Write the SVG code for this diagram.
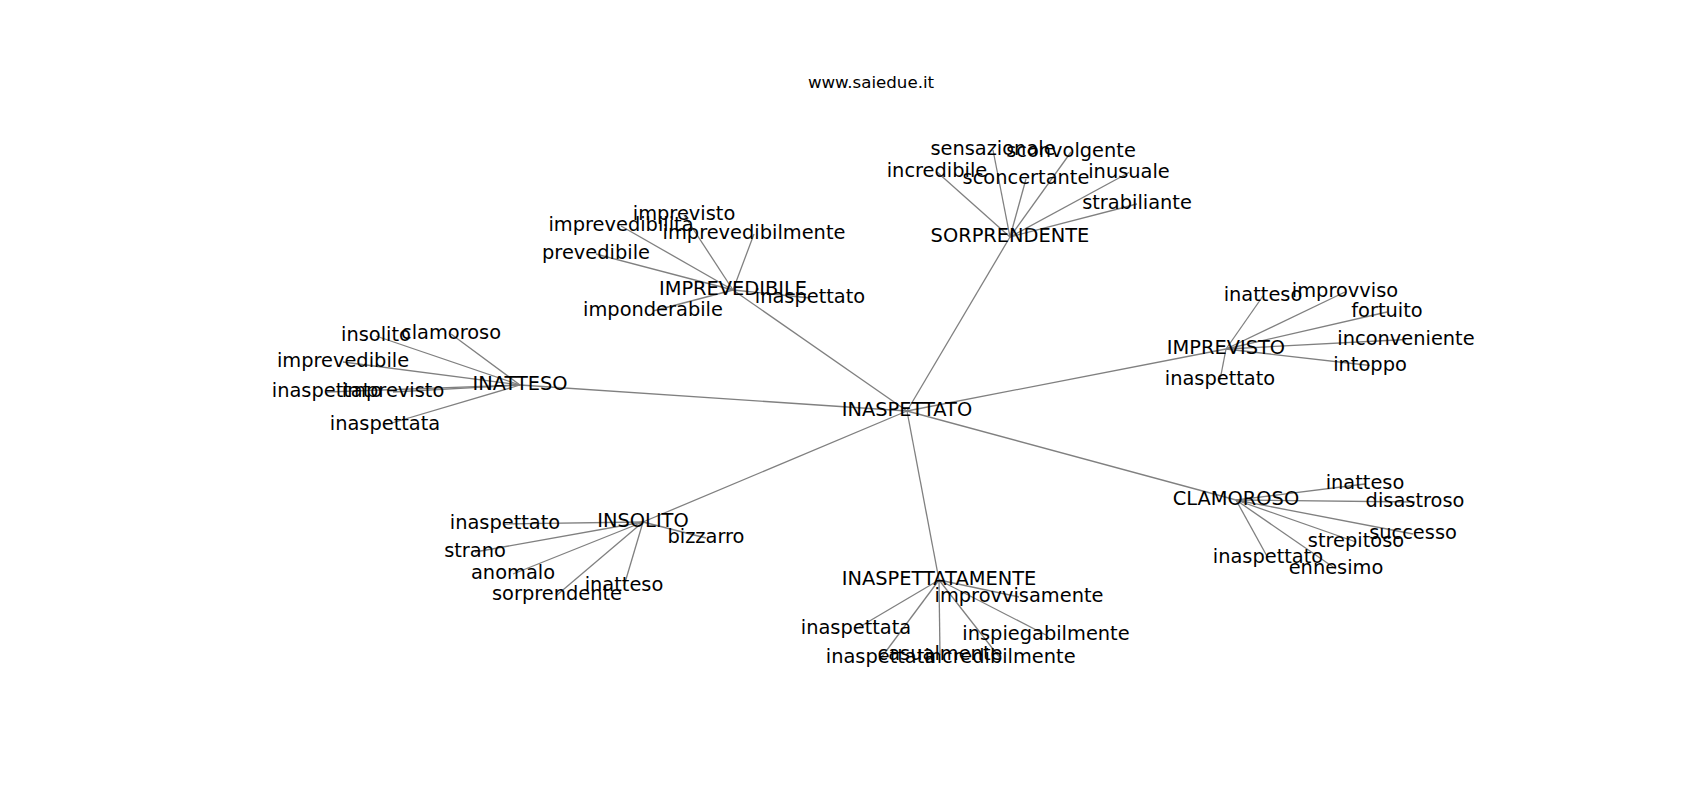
<svg xmlns="http://www.w3.org/2000/svg" width="1700" height="800" viewBox="0 0 1700 800">
<style>
.e{stroke:#808080;stroke-width:1.3;fill:none}
.l{font-family:"DejaVu Sans",sans-serif;font-size:19.4px;fill:#000;text-anchor:middle}
.t{font-family:"DejaVu Sans",sans-serif;font-size:16.67px;fill:#000;text-anchor:middle}
</style>
<rect width="1700" height="800" fill="#fff"/>
<text class="t" x="871" y="87.5">www.saiedue.it</text>
<g id="edges">
<line class="e" x1="907" y1="411" x2="1010" y2="237"/>
<line class="e" x1="907" y1="411" x2="733" y2="290"/>
<line class="e" x1="907" y1="411" x2="520" y2="385"/>
<line class="e" x1="907" y1="411" x2="1226" y2="349"/>
<line class="e" x1="907" y1="411" x2="1236" y2="500"/>
<line class="e" x1="907" y1="411" x2="643" y2="522"/>
<line class="e" x1="907" y1="411" x2="939" y2="580"/>
<line class="e" x1="1010" y1="237" x2="993" y2="150"/>
<line class="e" x1="1010" y1="237" x2="1071" y2="152"/>
<line class="e" x1="1010" y1="237" x2="937" y2="172"/>
<line class="e" x1="1010" y1="237" x2="1026" y2="179"/>
<line class="e" x1="1010" y1="237" x2="1129" y2="172.5"/>
<line class="e" x1="1010" y1="237" x2="1137" y2="204"/>
<line class="e" x1="733" y1="290" x2="684" y2="215"/>
<line class="e" x1="733" y1="290" x2="621" y2="226"/>
<line class="e" x1="733" y1="290" x2="754" y2="234"/>
<line class="e" x1="733" y1="290" x2="596" y2="254"/>
<line class="e" x1="733" y1="290" x2="653" y2="311"/>
<line class="e" x1="733" y1="290" x2="810" y2="298"/>
<line class="e" x1="520" y1="385" x2="376" y2="336"/>
<line class="e" x1="520" y1="385" x2="451" y2="334"/>
<line class="e" x1="520" y1="385" x2="343" y2="362"/>
<line class="e" x1="520" y1="385" x2="327" y2="392"/>
<line class="e" x1="520" y1="385" x2="393" y2="392"/>
<line class="e" x1="520" y1="385" x2="385" y2="425"/>
<line class="e" x1="1226" y1="349" x2="1263" y2="296"/>
<line class="e" x1="1226" y1="349" x2="1345" y2="292"/>
<line class="e" x1="1226" y1="349" x2="1387" y2="312"/>
<line class="e" x1="1226" y1="349" x2="1406" y2="339.5"/>
<line class="e" x1="1226" y1="349" x2="1370" y2="365.5"/>
<line class="e" x1="1226" y1="349" x2="1220" y2="380"/>
<line class="e" x1="1236" y1="500" x2="1365" y2="484"/>
<line class="e" x1="1236" y1="500" x2="1415" y2="502"/>
<line class="e" x1="1236" y1="500" x2="1413" y2="534"/>
<line class="e" x1="1236" y1="500" x2="1356" y2="542"/>
<line class="e" x1="1236" y1="500" x2="1268" y2="558"/>
<line class="e" x1="1236" y1="500" x2="1336" y2="569"/>
<line class="e" x1="643" y1="522" x2="505" y2="524"/>
<line class="e" x1="643" y1="522" x2="706" y2="538"/>
<line class="e" x1="643" y1="522" x2="475" y2="552"/>
<line class="e" x1="643" y1="522" x2="513" y2="574"/>
<line class="e" x1="643" y1="522" x2="624" y2="586"/>
<line class="e" x1="643" y1="522" x2="557" y2="595"/>
<line class="e" x1="939" y1="580" x2="1019" y2="597"/>
<line class="e" x1="939" y1="580" x2="856" y2="629"/>
<line class="e" x1="939" y1="580" x2="1046" y2="635"/>
<line class="e" x1="939" y1="580" x2="940" y2="655"/>
<line class="e" x1="939" y1="580" x2="881" y2="658"/>
<line class="e" x1="939" y1="580" x2="1000" y2="658"/>
</g>
<g id="n-inaspettato"><text class="l" x="907" y="416">INASPETTATO</text></g>
<g id="n-sorprendente"><text class="l" x="1010" y="242">SORPRENDENTE</text></g>
<g id="n-imprevedibile"><text class="l" x="733" y="295">IMPREVEDIBILE</text></g>
<g id="n-inatteso"><text class="l" x="520" y="390">INATTESO</text></g>
<g id="n-imprevisto"><text class="l" x="1226" y="354">IMPREVISTO</text></g>
<g id="n-clamoroso"><text class="l" x="1236" y="505">CLAMOROSO</text></g>
<g id="n-insolito"><text class="l" x="643" y="527">INSOLITO</text></g>
<g id="n-inaspettatamente"><text class="l" x="939" y="585">INASPETTATAMENTE</text></g>
<g id="n-s1"><text class="l" x="993" y="155">sensazionale</text></g>
<g id="n-s2"><text class="l" x="1071" y="157">sconvolgente</text></g>
<g id="n-s3"><text class="l" x="937" y="177">incredibile</text></g>
<g id="n-s4"><text class="l" x="1026" y="184">sconcertante</text></g>
<g id="n-s5"><text class="l" x="1129" y="177.5">inusuale</text></g>
<g id="n-s6"><text class="l" x="1137" y="209">strabiliante</text></g>
<g id="n-p1"><text class="l" x="684" y="220">imprevisto</text></g>
<g id="n-p2"><text class="l" x="621" y="231">imprevedibilità</text></g>
<g id="n-p3"><text class="l" x="754" y="239">imprevedibilmente</text></g>
<g id="n-p4"><text class="l" x="596" y="259">prevedibile</text></g>
<g id="n-p5"><text class="l" x="653" y="316">imponderabile</text></g>
<g id="n-p6"><text class="l" x="810" y="303">inaspettato</text></g>
<g id="n-a1"><text class="l" x="376" y="341">insolito</text></g>
<g id="n-a2"><text class="l" x="451" y="339">clamoroso</text></g>
<g id="n-a3"><text class="l" x="343" y="367">imprevedibile</text></g>
<g id="n-a4"><text class="l" x="327" y="397">inaspettato</text></g>
<g id="n-a5"><text class="l" x="393" y="397">imprevisto</text></g>
<g id="n-a6"><text class="l" x="385" y="430">inaspettata</text></g>
<g id="n-v1"><text class="l" x="1263" y="301">inatteso</text></g>
<g id="n-v2"><text class="l" x="1345" y="297">improvviso</text></g>
<g id="n-v3"><text class="l" x="1387" y="317">fortuito</text></g>
<g id="n-v4"><text class="l" x="1406" y="344.5">inconveniente</text></g>
<g id="n-v5"><text class="l" x="1370" y="370.5">intoppo</text></g>
<g id="n-v6"><text class="l" x="1220" y="385">inaspettato</text></g>
<g id="n-c1"><text class="l" x="1365" y="489">inatteso</text></g>
<g id="n-c2"><text class="l" x="1415" y="507">disastroso</text></g>
<g id="n-c3"><text class="l" x="1413" y="539">successo</text></g>
<g id="n-c4"><text class="l" x="1356" y="547">strepitoso</text></g>
<g id="n-c5"><text class="l" x="1268" y="563">inaspettato</text></g>
<g id="n-c6"><text class="l" x="1336" y="574">ennesimo</text></g>
<g id="n-i1"><text class="l" x="505" y="529">inaspettato</text></g>
<g id="n-i2"><text class="l" x="706" y="543">bizzarro</text></g>
<g id="n-i3"><text class="l" x="475" y="557">strano</text></g>
<g id="n-i4"><text class="l" x="513" y="579">anomalo</text></g>
<g id="n-i5"><text class="l" x="624" y="591">inatteso</text></g>
<g id="n-i6"><text class="l" x="557" y="600">sorprendente</text></g>
<g id="n-m1"><text class="l" x="1019" y="602">improvvisamente</text></g>
<g id="n-m2"><text class="l" x="856" y="634">inaspettata</text></g>
<g id="n-m3"><text class="l" x="1046" y="640">inspiegabilmente</text></g>
<g id="n-m4"><text class="l" x="940" y="660">casualmente</text></g>
<g id="n-m5"><text class="l" x="881" y="663">inaspettata</text></g>
<g id="n-m6"><text class="l" x="1000" y="663">incredibilmente</text></g>
</svg>
